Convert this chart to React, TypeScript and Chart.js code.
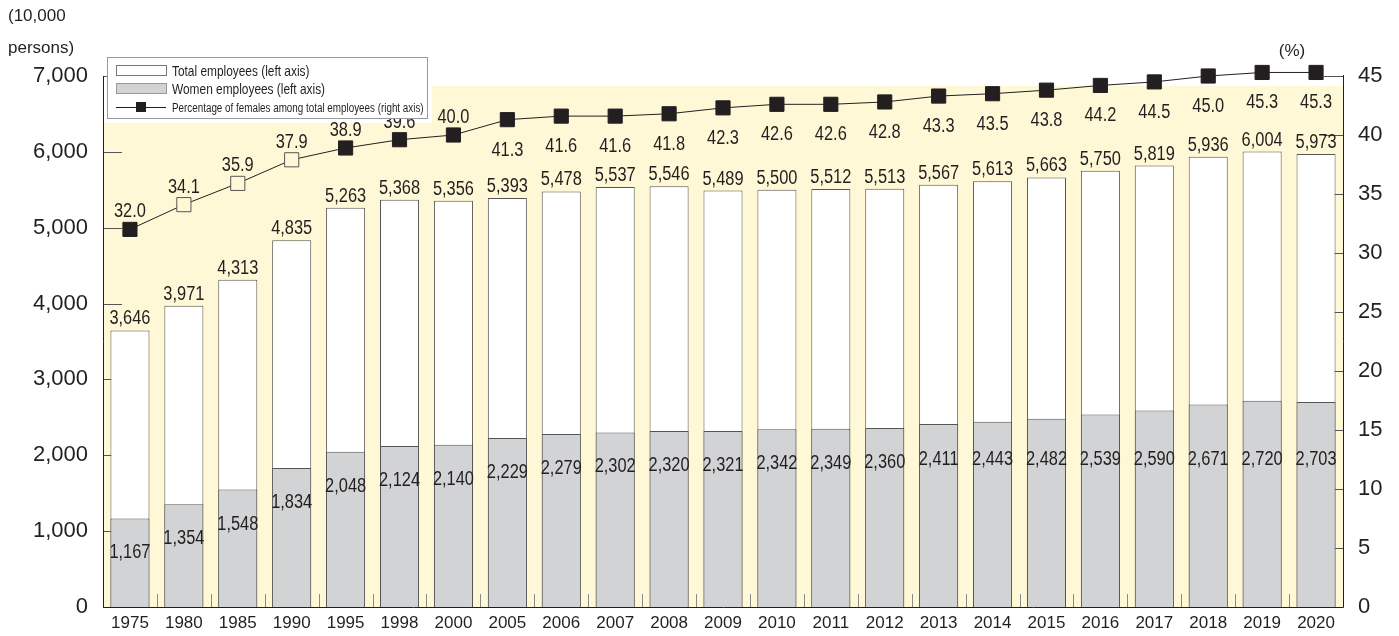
import React, { useEffect, useRef } from "react";
import { Chart, registerables } from "chart.js";

Chart.register(...registerables);

const years = ["1975","1980","1985","1990","1995","1998","2000","2005","2006","2007","2008","2009","2010","2011","2012","2013","2014","2015","2016","2017","2018","2019","2020"];
const totalEmployees = [3646,3971,4313,4835,5263,5368,5356,5393,5478,5537,5546,5489,5500,5512,5513,5567,5613,5663,5750,5819,5936,6004,5973];
const womenEmployees = [1167,1354,1548,1834,2048,2124,2140,2229,2279,2302,2320,2321,2342,2349,2360,2411,2443,2482,2539,2590,2671,2720,2703];
const femaleShare = [32.0,34.1,35.9,37.9,38.9,39.6,40.0,41.3,41.6,41.6,41.8,42.3,42.6,42.6,42.8,43.3,43.5,43.8,44.2,44.5,45.0,45.3,45.3];
const openMarkerYears = ["1980","1985","1990"];
const labelAboveUntil = "2000";

const legendLabels = [
  "Total employees (left axis)",
  "Women employees (left axis)",
  "Percentage of females among total employees (right axis)",
];
const unitLeftLines = ["(10,000", "persons)"];
const unitRight = "(%)";

const FONT = "'Liberation Sans', Arial, Helvetica, sans-serif";
const INK = "#231f20";
const YELLOW = "#fff8d6";
const GREY_FILL = "#d1d3d4";
const BAR_EDGE = "#555555";

function narrow(ctx: CanvasRenderingContext2D, text: string, x: number, y: number, size: number, align: CanvasTextAlign = "center", sx = 0.82) {
  ctx.save();
  ctx.font = `${size}px ${FONT}`;
  ctx.textBaseline = "alphabetic";
  ctx.textAlign = align;
  ctx.fillStyle = INK;
  ctx.translate(x, y);
  ctx.scale(sx, 1);
  ctx.fillText(text, 0, 0);
  ctx.restore();
}

const decorPlugin = {
  id: "decor",
  beforeDraw(chart: any) {
    const { ctx, chartArea: a } = chart;
    ctx.save();
    ctx.fillStyle = "#ffffff";
    ctx.fillRect(0, 0, chart.width, chart.height);
    ctx.fillStyle = YELLOW;
    ctx.fillRect(a.left, a.top + 10, a.right - a.left, a.bottom - a.top - 10);
    // white margin around legend
    ctx.fillStyle = "#ffffff";
    ctx.fillRect(a.left + 1, a.top, 328, 47);
    ctx.restore();
  },
  beforeDatasetsDraw(chart: any) {
    const { ctx, chartArea: a, scales } = chart;
    ctx.save();
    ctx.lineWidth = 1;
    ctx.strokeStyle = "#555";
    // left inward ticks
    for (let v = 0; v <= 7000; v += 1000) {
      const y = Math.round(scales.y.getPixelForValue(v)) + 0.5;
      ctx.beginPath();
      ctx.moveTo(a.left, y);
      ctx.lineTo(a.left + 19, y);
      ctx.stroke();
    }
    for (let v = 0; v <= 45; v += 5) {
      const y = Math.round(scales.y1.getPixelForValue(v)) + 0.5;
      ctx.beginPath();
      ctx.moveTo(a.right, y);
      ctx.lineTo(a.right - 19, y);
      ctx.stroke();
    }
    // bottom category separators
    ctx.strokeStyle = "#8a8a8a";
    const n = years.length;
    const w = (a.right - a.left) / n;
    for (let k = 1; k < n; k++) {
      const x = Math.round(a.left + k * w) + 0.5;
      ctx.beginPath();
      ctx.moveTo(x, a.bottom);
      ctx.lineTo(x, a.bottom - 13);
      ctx.stroke();
    }
    ctx.restore();
  },
  afterDatasetsDraw(chart: any) {
    const { ctx, chartArea: a } = chart;
    ctx.save();
    // axis lines
    ctx.strokeStyle = INK;
    ctx.lineWidth = 1;
    ctx.beginPath();
    ctx.moveTo(a.left + 0.5, a.top);
    ctx.lineTo(a.left + 0.5, a.bottom + 0.5);
    ctx.lineTo(a.right + 0.5, a.bottom + 0.5);
    ctx.lineTo(a.right + 0.5, a.top - 1);
    ctx.stroke();

    const totalMeta = chart.getDatasetMeta(2);
    const womenMeta = chart.getDatasetMeta(1);
    const lineMeta = chart.getDatasetMeta(0);
    const aboveIdx = years.indexOf(labelAboveUntil);
    const womenFloor = a.bottom - 142;
    years.forEach((_, i) => {
      const tb = totalMeta.data[i];
      narrow(ctx, totalEmployees[i].toLocaleString("en-US"), tb.x, tb.y - 6, 20);
      const wb = womenMeta.data[i];
      narrow(ctx, womenEmployees[i].toLocaleString("en-US"), wb.x, Math.max(wb.y + 40, womenFloor), 20);
      const p = lineMeta.data[i];
      const txt = femaleShare[i].toFixed(1);
      if (i <= aboveIdx) narrow(ctx, txt, p.x, p.y - 12, 20);
      else narrow(ctx, txt, p.x, p.y + 36, 20);
    });

    // legend
    const lx = 107, ly = 57, lw = 320, lh = 61;
    ctx.fillStyle = "#ffffff";
    ctx.fillRect(lx, ly, lw, lh);
    ctx.strokeStyle = "#9a9a9a";
    ctx.strokeRect(lx + 0.5, ly + 0.5, lw, lh);
    ctx.fillStyle = "#ffffff";
    ctx.strokeStyle = "#777";
    ctx.fillRect(116, 65, 50, 10);
    ctx.strokeRect(116.5, 65.5, 50, 10);
    ctx.fillStyle = GREY_FILL;
    ctx.strokeStyle = "#999";
    ctx.fillRect(116, 83, 50, 10);
    ctx.strokeRect(116.5, 83.5, 50, 10);
    ctx.strokeStyle = INK;
    ctx.beginPath();
    ctx.moveTo(116, 107.5);
    ctx.lineTo(166, 107.5);
    ctx.stroke();
    ctx.fillStyle = INK;
    ctx.fillRect(136, 102, 10, 10);
    narrow(ctx, legendLabels[0], 172, 75.5, 14.5, "left");
    narrow(ctx, legendLabels[1], 172, 93.5, 14.5, "left");
    narrow(ctx, legendLabels[2], 172, 112, 12, "left");

    // unit labels
    ctx.fillStyle = INK;
    ctx.font = `17px ${FONT}`;
    ctx.textAlign = "left";
    ctx.textBaseline = "alphabetic";
    ctx.fillText(unitLeftLines[0], 8, 21);
    ctx.fillText(unitLeftLines[1], 8, 53);
    ctx.textAlign = "center";
    ctx.fillText(unitRight, 1292, 56);
    ctx.restore();
  },
};

export default function App() {
  const ref = useRef<HTMLCanvasElement | null>(null);
  useEffect(() => {
    if (!ref.current) return;
    const pointFill = years.map((y) => (openMarkerYears.includes(y) ? YELLOW : INK));
    const pointEdge = years.map((y) => (openMarkerYears.includes(y) ? "#555" : INK));
    const chart = new Chart(ref.current, {
      type: "bar",
      data: {
        labels: years,
        datasets: [
          {
            type: "line",
            label: legendLabels[2],
            data: femaleShare,
            yAxisID: "y1",
            borderColor: INK,
            borderWidth: 1,
            pointStyle: "rect",
            pointRadius: 10,
            pointBackgroundColor: pointFill,
            pointBorderColor: pointEdge,
            pointBorderWidth: 1,
            order: 0,
            clip: false,
          } as any,
          {
            type: "bar",
            label: legendLabels[1],
            data: womenEmployees,
            yAxisID: "y",
            backgroundColor: GREY_FILL,
            borderColor: BAR_EDGE,
            borderWidth: 1,
            grouped: false,
            categoryPercentage: 1,
            barPercentage: 0.724,
            order: 1,
          } as any,
          {
            type: "bar",
            label: legendLabels[0],
            data: totalEmployees,
            yAxisID: "y",
            backgroundColor: "#ffffff",
            borderColor: BAR_EDGE,
            borderWidth: 1,
            grouped: false,
            categoryPercentage: 1,
            barPercentage: 0.724,
            order: 2,
          } as any,
        ],
      },
      options: {
        responsive: true,
        maintainAspectRatio: false,
        animation: false,
        layout: { padding: { top: 76, left: 0, right: 0, bottom: 0 } },
        plugins: { legend: { display: false }, tooltip: { enabled: false } },
        scales: {
          x: {
            grid: { display: false, drawTicks: false },
            border: { display: false },
            ticks: { color: INK, font: { family: FONT, size: 17 }, padding: 6, maxRotation: 0, autoSkip: false },
            afterFit: (s: any) => { s.height = 29; },
          },
          y: {
            position: "left",
            min: 0,
            max: 7000,
            grid: { display: false, drawTicks: false },
            border: { display: false },
            ticks: {
              stepSize: 1000,
              padding: 15,
              color: INK,
              font: { family: FONT, size: 22 },
              callback: (v: any) => Number(v).toLocaleString("en-US"),
            },
            afterFit: (s: any) => { s.width = 103; },
          },
          y1: {
            position: "right",
            min: 0,
            max: 45,
            grid: { display: false, drawTicks: false },
            border: { display: false },
            ticks: { stepSize: 5, padding: 15, color: INK, font: { family: FONT, size: 22 } },
            afterFit: (s: any) => { s.width = 56; },
          },
        },
      } as any,
      plugins: [decorPlugin],
    });
    return () => chart.destroy();
  }, []);
  return (
    <div style={{ position: "absolute", left: 0, top: 0, width: 1399, height: 636 }}>
      <canvas ref={ref} />
    </div>
  );
}
